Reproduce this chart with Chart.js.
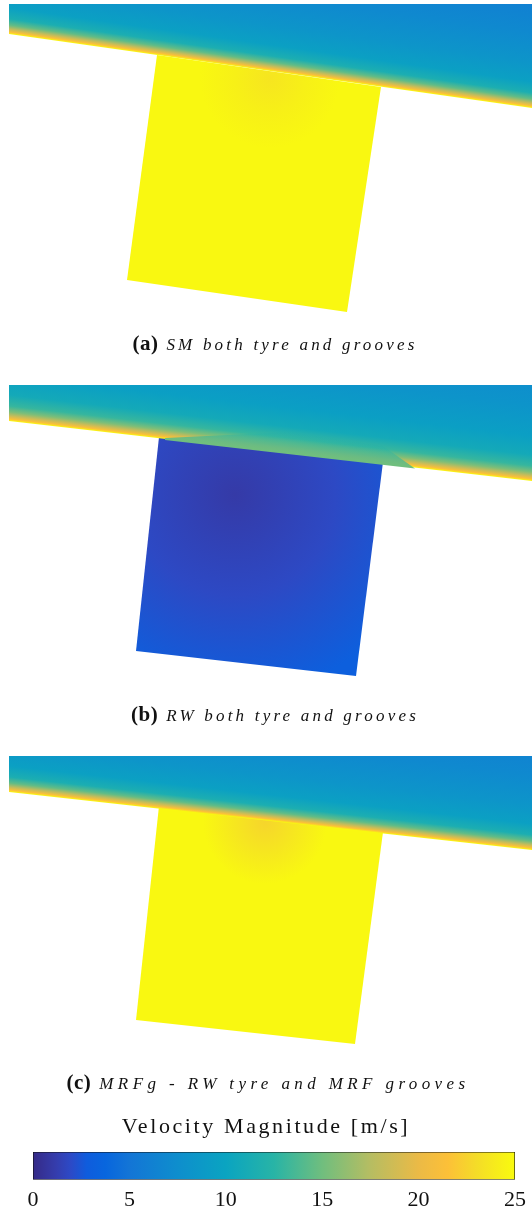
<!DOCTYPE html>
<html>
<head>
<meta charset="utf-8">
<script src="https://cdn.jsdelivr.net/npm/chart.js@4.4.1/dist/chart.umd.min.js"></script>
<style>
  body { margin: 0; background: #fff; }
  #wrap { position: relative; width: 532px; height: 1213px; overflow: hidden; }
  #panels { position: absolute; left: 0; top: 0; }
  #cbar { position: absolute; left: 0; top: 1140px; }
  .cap { position: absolute; left: 0; width: 532px; text-align: center; color: #111; white-space: nowrap; }
  .cap b { font: bold 21px "Liberation Serif", serif; letter-spacing: 0.5px; }
  .cap i { font: italic 17px "Liberation Serif", serif; letter-spacing: 3.2px; margin-left: 8px; }
  #cbtitle { position: absolute; left: 0; width: 532px; top: 1113px; text-align: center;
             font: 22px "Liberation Serif", serif; letter-spacing: 2.6px; color: #111; }
</style>
</head>
<body>
<div id="wrap">
  <canvas id="panels" width="532" height="1090"></canvas>
  <div class="cap" style="top:331px; left:9px"><b>(a)</b><i>SM both tyre and grooves</i></div>
  <div class="cap" style="top:702px; left:9px"><b>(b)</b><i>RW both tyre and grooves</i></div>
  <div class="cap" style="top:1070px; left:2px"><b>(c)</b><i style="letter-spacing:4.4px">MRFg - RW tyre and MRF grooves</i></div>
  <div id="cbtitle">Velocity Magnitude [m/s]</div>
  <canvas id="cbar" width="532" height="73"></canvas>
</div>
<script>
// outlines (x, y in picture units, y downwards)
var bandA = [[9, 4], [532, 4], [532, 108], [9, 34]];
var grooveA = [[157, 55], [381, 87], [347, 312], [127, 280]];
var bandB = [[9, 385], [532, 385], [532, 481], [9, 421]];
var grooveB = [[159, 437], [383, 462], [356, 676], [136, 651]];
var wakeB = [[165, 438], [290, 432], [383, 446], [415, 468.5], [165, 440]];
var bandC = [[9, 756], [532, 756], [532, 850], [9, 792]];
var grooveC = [[159, 806], [383, 832], [355, 1044], [136, 1020]];

// velocity across the band, distance from the wall (px) -> m/s
var bandDist = [0, 2, 5, 9, 15, 26, 45, 75, 110];
var bandVelA = [25, 21.5, 18, 14.5, 11.5, 9.6, 8.3, 7, 5.9];
var bandVelB = [25, 21.5, 18.5, 15.5, 13, 10.8, 9.4, 8.2, 7.2];
var bandVelC = [25, 21.5, 18, 14.5, 11.5, 9.6, 8.3, 7, 6];

// slower layer above groove (b): distance (px) -> m/s, opacity
var wakeDist = [-2, 0, 7, 14, 22];
var wakeVel = [15, 15, 13.8, 12.4, 11];
var wakeAlpha = [1, 1, 0.8, 0.35, 0];

// groove velocity, radial from a centre
var grooveStops = [0, 0.5, 1];
var grooveVelA = [23.6, 24.3, 24.8];
var grooveVelB = [1.0, 1.9, 3.1];
var grooveVelC = [22.6, 23.7, 24.8];
var grooveCentre = { a: [270, 78, 70], b: [235, 495, 200], c: [265, 822, 62] };

// colour bar
var cbarMin = 0;
var cbarMax = 25;
var cbarStep = 5;

var parulaPos = [0, 0.048, 0.079, 0.111, 0.15, 0.2, 0.3, 0.4, 0.5, 0.6, 0.7, 0.8, 0.86, 0.92, 1];
var parulaRgb = [
    [53, 42, 135], [53, 61, 173], [44, 74, 199], [15, 92, 221], [8, 102, 222],
    [19, 117, 214], [14, 142, 205], [10, 164, 193], [40, 180, 166], [112, 190, 126],
    [182, 189, 98], [235, 186, 70], [252, 192, 56], [244, 220, 40], [249, 251, 14]
];

function parula(v, alpha) {
    var t = Math.max(0, Math.min(1, v / cbarMax));
    var al = alpha === undefined ? 1 : alpha;
    var rgb = parulaRgb[parulaRgb.length - 1];
    for (var i = 1; i < parulaPos.length; i++) {
        if (t <= parulaPos[i]) {
            var f = (t - parulaPos[i - 1]) / (parulaPos[i] - parulaPos[i - 1]);
            var a = parulaRgb[i - 1], b = parulaRgb[i];
            rgb = [a[0] + (b[0] - a[0]) * f, a[1] + (b[1] - a[1]) * f, a[2] + (b[2] - a[2]) * f];
            break;
        }
    }
    return 'rgba(' + Math.round(rgb[0]) + ',' + Math.round(rgb[1]) + ',' + Math.round(rgb[2]) + ',' + al + ')';
}

function pts(list) {
    var out = list.map(function (p) { return { x: p[0], y: p[1] }; });
    out.push({ x: list[0][0], y: list[0][1] });
    return out;
}

// gradient running away from a wall edge p -> q, towards the upper side
function wallFill(p, q, dist, vel, alpha) {
    return function (c) {
        var ch = c.chart;
        if (!ch.chartArea) return parula(vel[vel.length - 1]);
        var xs = ch.scales.x, ys = ch.scales.y;
        var x0 = xs.getPixelForValue(p[0]), y0 = ys.getPixelForValue(p[1]);
        var x1 = xs.getPixelForValue(q[0]), y1 = ys.getPixelForValue(q[1]);
        var dx = x1 - x0, dy = y1 - y0, len = Math.hypot(dx, dy);
        var nx = dy / len, ny = -dx / len;
        var d0 = dist[0], d1 = dist[dist.length - 1];
        var g = ch.ctx.createLinearGradient(x0 + nx * d0, y0 + ny * d0, x0 + nx * d1, y0 + ny * d1);
        for (var i = 0; i < dist.length; i++) {
            g.addColorStop((dist[i] - d0) / (d1 - d0), parula(vel[i], alpha ? alpha[i] : 1));
        }
        return g;
    };
}

function bandFill(band, vel) {
    return wallFill(band[3], band[2], bandDist, vel);
}

function grooveFill(centre, vel) {
    return function (c) {
        var ch = c.chart;
        if (!ch.chartArea) return parula(vel[vel.length - 1]);
        var cx = ch.scales.x.getPixelForValue(centre[0]);
        var cy = ch.scales.y.getPixelForValue(centre[1]);
        var g = ch.ctx.createRadialGradient(cx, cy, 0, cx, cy, centre[2]);
        for (var i = 0; i < grooveStops.length; i++) {
            g.addColorStop(grooveStops[i], parula(vel[i]));
        }
        return g;
    };
}

function shape(list, fillFn) {
    return {
        data: pts(list),
        showLine: true,
        fill: 'shape',
        backgroundColor: fillFn,
        borderWidth: 0,
        pointRadius: 0,
        tension: 0
    };
}

// Chart.js paints the first dataset last, so the wake layer sits above band b
var ctx = document.getElementById('panels').getContext('2d');
var panelChart = new Chart(ctx, {
    type: 'scatter',
    data: {
        datasets: [
            shape(wakeB, wallFill(bandB[3], bandB[2], wakeDist, wakeVel, wakeAlpha)),
            shape(bandA, bandFill(bandA, bandVelA)),
            shape(grooveA, grooveFill(grooveCentre.a, grooveVelA)),
            shape(bandB, bandFill(bandB, bandVelB)),
            shape(grooveB, grooveFill(grooveCentre.b, grooveVelB)),
            shape(bandC, bandFill(bandC, bandVelC)),
            shape(grooveC, grooveFill(grooveCentre.c, grooveVelC))
        ]
    },
    options: {
        responsive: false,
        animation: false,
        devicePixelRatio: 1,
        layout: { padding: 0 },
        plugins: { legend: { display: false }, tooltip: { enabled: false } },
        scales: {
            x: { type: 'linear', min: 0, max: 532, display: false },
            y: { type: 'linear', min: 0, max: 1090, reverse: true, display: false }
        }
    }
});

function cbarFill(c) {
    var ch = c.chart;
    if (!ch.chartArea) return parula(cbarMax / 2);
    var xs = ch.scales.x;
    var x0 = xs.getPixelForValue(cbarMin), x1 = xs.getPixelForValue(cbarMax);
    var g = ch.ctx.createLinearGradient(x0, 0, x1, 0);
    for (var i = 0; i < parulaPos.length; i++) {
        g.addColorStop(parulaPos[i], parula(parulaPos[i] * cbarMax));
    }
    return g;
}

var ctx2 = document.getElementById('cbar').getContext('2d');
var cbarChart = new Chart(ctx2, {
    type: 'scatter',
    data: {
        datasets: [{
            data: [{ x: cbarMin, y: 0 }, { x: cbarMax, y: 0 }, { x: cbarMax, y: 1 }, { x: cbarMin, y: 1 }, { x: cbarMin, y: 0 }],
            showLine: true,
            fill: 'shape',
            backgroundColor: cbarFill,
            borderColor: '#111',
            borderWidth: 1.2,
            pointRadius: 0,
            tension: 0
        }]
    },
    options: {
        responsive: false,
        animation: false,
        devicePixelRatio: 1,
        layout: { padding: { left: 33, right: 17, top: 12, bottom: 6 } },
        plugins: { legend: { display: false }, tooltip: { enabled: false } },
        scales: {
            x: {
                type: 'linear', min: cbarMin, max: cbarMax,
                grid: { display: false },
                border: { display: false },
                ticks: {
                    stepSize: cbarStep,
                    padding: 0,
                    color: '#111',
                    maxRotation: 0,
                    font: { family: '"Liberation Serif", serif', size: 22 }
                }
            },
            y: { type: 'linear', min: 0, max: 1, display: false }
        }
    }
});
</script>
</body>
</html>
